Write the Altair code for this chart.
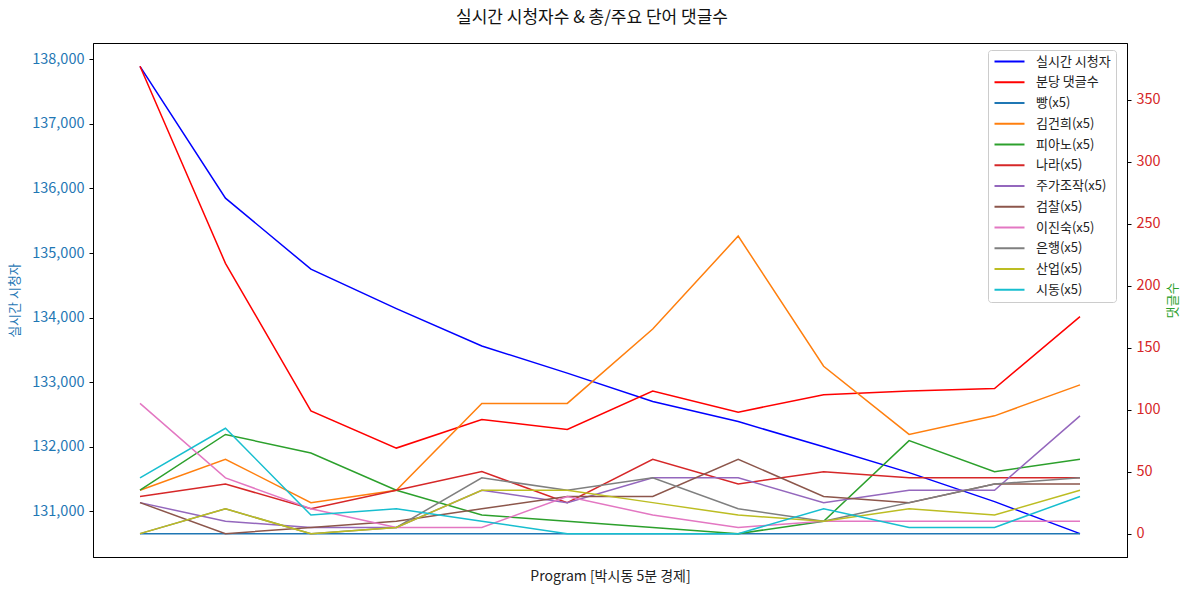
import altair as alt
import pandas as pd

FONT = "Noto Sans CJK KR"

x_idx = list(range(12))

viewers = [137890, 135850, 134750, 134140, 133560, 133140, 132700, 132390, 132000, 131600, 131150, 130655]
comments_per_min = [377, 218, 99, 69, 92, 84, 115, 98, 112, 115, 117, 175]

kw_bbang = [0, 0, 0, 0, 0, 0, 0, 0, 0, 0, 0, 0]
kw_kimgh = [35, 60, 25, 35, 105, 105, 165, 240, 135, 80, 95, 120]
kw_piano = [35, 80, 65, 35, 15, 10, 5, 0, 10, 75, 50, 60]
kw_nara = [30, 40, 20, 35, 50, 25, 60, 40, 50, 45, 45, 45]
kw_stock = [25, 10, 5, 5, 35, 25, 45, 45, 25, 35, 35, 95]
kw_prosec = [25, 0, 5, 10, 20, 30, 30, 60, 30, 25, 40, 40]
kw_ljs = [105, 45, 20, 5, 5, 30, 15, 5, 10, 10, 10, 10]
kw_bank = [0, 20, 0, 5, 45, 35, 45, 20, 10, 25, 40, 45]
kw_industry = [0, 20, 0, 5, 35, 35, 25, 15, 10, 20, 15, 35]
kw_sidong = [45, 85, 15, 20, 10, 0, 0, 0, 20, 5, 5, 30]

names = ["실시간 시청자", "분당 댓글수", "빵(x5)", "김건희(x5)", "피아노(x5)", "나라(x5)",
         "주가조작(x5)", "검찰(x5)", "이진숙(x5)", "은행(x5)", "산업(x5)", "시동(x5)"]
colors = ["#0000ff", "#ff0000", "#1f77b4", "#ff7f0e", "#2ca02c", "#d62728",
          "#9467bd", "#8c564b", "#e377c2", "#7f7f7f", "#bcbd22", "#17becf"]

right_series = [comments_per_min, kw_bbang, kw_kimgh, kw_piano, kw_nara, kw_stock,
                kw_prosec, kw_ljs, kw_bank, kw_industry, kw_sidong]

df_v = pd.DataFrame({"idx": x_idx, "value": viewers, "series": names[0], "ord": 0})
rows = []
for k, (nm, vals) in enumerate(zip(names[1:], right_series)):
    for i, v in zip(x_idx, vals):
        rows.append({"idx": i, "value": v, "series": nm, "ord": k + 1})
df_c = pd.DataFrame(rows)

color_scale = alt.Scale(domain=names, range=colors)
legend = alt.Legend(
    title=None, orient="none", legendX=895, legendY=7,
    symbolType="M-1,0H5", symbolSize=100, symbolStrokeWidth=2,
    labelOffset=30, labelFontSize=13, labelFont=FONT, labelColor="#222222",
    rowPadding=6.75, padding=5, fillColor="white", strokeColor="#cccccc",
    cornerRadius=3,
)

x_axis = alt.Axis(title="Program [박시동 5분 경제]", labels=False, ticks=False, grid=False,
                  domainColor="black", titleFont=FONT, titleFontSize=14,
                  titleFontWeight="normal", titleColor="#222222",
                  titleY=19, titleBaseline="middle")
x_scale = alt.Scale(domain=[-0.55, 11.55], nice=False, zero=False)

left = alt.Chart(df_v).mark_line(strokeWidth=1.5).encode(
    x=alt.X("idx:Q", scale=x_scale, axis=x_axis),
    y=alt.Y("value:Q",
            scale=alt.Scale(domain=[130293, 138252], nice=False, zero=False),
            axis=alt.Axis(title="실시간 시청자", values=list(range(131000, 138001, 1000)),
                          format=",d", grid=False, labelColor="#1f77b4", labelFontSize=14.5,
                          labelFont=FONT, labelPadding=5, tickSize=4, tickColor="black",
                          domainColor="black", titleColor="#1f77b4", titleFont=FONT,
                          titleFontSize=13, titleFontWeight="normal",
                          titleX=-79, titleY=257, titleAngle=270,
                          titleAlign="center", titleBaseline="middle")),
    color=alt.Color("series:N", scale=color_scale, legend=legend, sort=names),
    detail="ord:O",
)

right = alt.Chart(df_c).mark_line(strokeWidth=1.5).encode(
    x=alt.X("idx:Q", scale=x_scale, axis=x_axis),
    y=alt.Y("value:Q",
            scale=alt.Scale(domain=[-18.85, 395.7], nice=False, zero=False),
            axis=alt.Axis(title="댓글수", orient="right", values=list(range(0, 351, 50)),
                          format="d", grid=False, labelColor="#d62728", labelFontSize=14.5,
                          labelFont=FONT, labelPadding=5, tickSize=4, tickColor="black",
                          domainColor="black", titleColor="#2ca02c", titleFont=FONT,
                          titleFontSize=13, titleFontWeight="normal",
                          titleX=45, titleY=257, titleAngle=270,
                          titleAlign="center", titleBaseline="middle")),
    color=alt.Color("series:N", scale=color_scale, legend=legend, sort=names),
    detail="ord:O",
)

chart = alt.layer(left, right).resolve_scale(y="independent").properties(
    width=1034, height=514,
    autosize=alt.AutoSizeParams(type="none"),
    padding={"left": 93, "top": 43, "right": 62, "bottom": 35},
    background="white",
    title=alt.Title("실시간 시청자수 & 총/주요 단어 댓글수", fontSize=17, fontWeight="normal",
                    font=FONT, anchor="middle", dx=-18, dy=18, offset=17, baseline="bottom",
                    color="#111111"),
).configure_view(stroke="black", strokeWidth=1)

chart.save("out.html", embed_options={"renderer": "svg", "actions": False})
